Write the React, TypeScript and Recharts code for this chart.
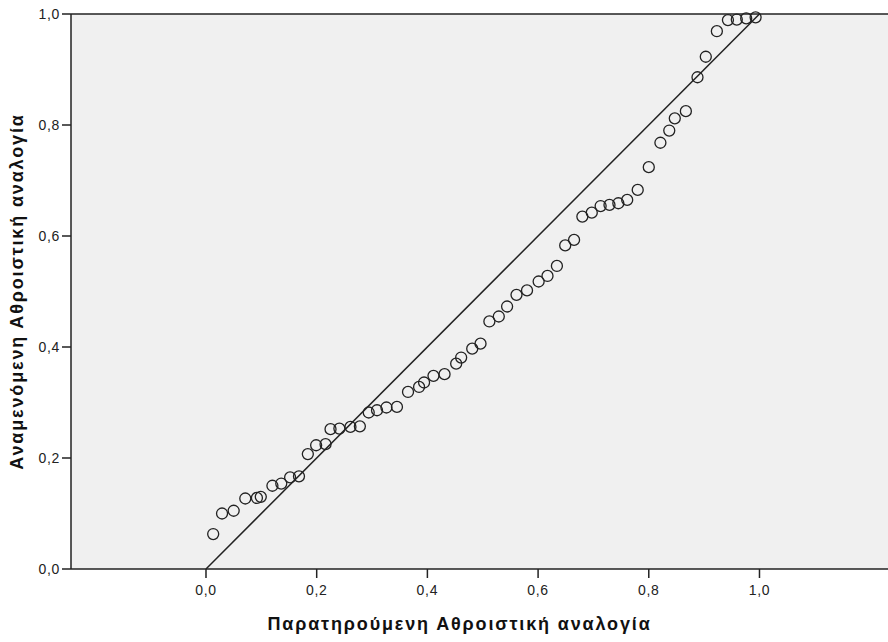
import {
    ScatterChart,
    Scatter,
    XAxis,
    YAxis,
    CartesianGrid,
    ReferenceLine,
    Label,
} from "recharts";

// observed cumulative proportion (x) and expected cumulative proportion (y)
const observed = [
    0.013, 0.029, 0.05, 0.071, 0.092, 0.099, 0.12, 0.136, 0.152, 0.168,
    0.184, 0.199, 0.216, 0.225, 0.241, 0.261, 0.278, 0.294, 0.309, 0.326,
    0.345, 0.365, 0.385, 0.394, 0.411, 0.431, 0.452, 0.461, 0.481, 0.496,
    0.512, 0.529, 0.544, 0.561, 0.58, 0.601, 0.617, 0.634, 0.649, 0.665,
    0.68, 0.697, 0.713, 0.729, 0.745, 0.761, 0.78, 0.8, 0.821, 0.837,
    0.847, 0.867, 0.888, 0.903, 0.923, 0.943, 0.959, 0.976, 0.993,
];
const expected = [
    0.063, 0.1, 0.105, 0.127, 0.128, 0.13, 0.15, 0.154, 0.165, 0.167,
    0.207, 0.223, 0.225, 0.252, 0.253, 0.256, 0.257, 0.282, 0.286, 0.291,
    0.292, 0.319, 0.328, 0.336, 0.348, 0.351, 0.37, 0.381, 0.397, 0.406,
    0.446, 0.455, 0.473, 0.494, 0.502, 0.518, 0.528, 0.546, 0.583, 0.593,
    0.635, 0.642, 0.654, 0.656, 0.659, 0.665, 0.683, 0.724, 0.768, 0.79,
    0.812, 0.825, 0.886, 0.923, 0.969, 0.989, 0.99, 0.992, 0.994,
];
const ticks = [0, 0.2, 0.4, 0.6, 0.8, 1.0];

const points = observed.map((x, i) => ({ x, y: expected[i] }));

const font = "'Liberation Sans', Arial, sans-serif";
const fmt = (v: number) => v.toFixed(1).replace(".", ",");

const tickStyle = { fontSize: 14, fill: "#222", letterSpacing: 0.7 };
const titleStyle = { fontSize: 18, fontWeight: "bold", fill: "#111", letterSpacing: 1.85 };

const Ring = (props: any) => (
    <circle cx={props.cx} cy={props.cy} r={5.5} fill="none" stroke="#222" strokeWidth={1.3} />
);

export default function App() {
    return (
        <div style={{ position: "absolute", left: 0, top: 0, background: "#fff" }}>
            <ScatterChart
                width={888}
                height={642}
                margin={{ top: 14, right: 0, left: 0, bottom: 0 }}
                style={{ fontFamily: font }}
            >
                <CartesianGrid horizontal={false} vertical={false} fill="#f0f0f0" />
                <XAxis
                    type="number"
                    dataKey="x"
                    domain={[-0.2439, 1.2322]}
                    ticks={ticks}
                    tickFormatter={fmt}
                    height={73}
                    tickSize={9}
                    tickMargin={7}
                    allowDataOverflow
                    tick={tickStyle}
                    axisLine={{ stroke: "#222", strokeWidth: 1.5 }}
                    tickLine={{ stroke: "#222", strokeWidth: 1.5 }}
                >
                    <Label
                        value="Παρατηρούμενη Αθροιστική αναλογία"
                        position="insideBottom"
                        offset={12}
                        dx={-20}
                        style={titleStyle}
                    />
                </XAxis>
                <YAxis
                    type="number"
                    dataKey="y"
                    domain={[0, 1]}
                    ticks={ticks}
                    tickFormatter={fmt}
                    width={71}
                    tickSize={9}
                    tickMargin={2}
                    tick={tickStyle}
                    axisLine={{ stroke: "#222", strokeWidth: 1.5 }}
                    tickLine={{ stroke: "#222", strokeWidth: 1.5 }}
                >
                    <Label
                        value="Αναμενόμενη Αθροιστική αναλογία"
                        angle={-90}
                        position="insideLeft"
                        offset={17}
                        style={{ ...titleStyle, textAnchor: "middle" }}
                    />
                </YAxis>
                <ReferenceLine y={1} stroke="#222" strokeWidth={1.5} />
                <ReferenceLine
                    segment={[{ x: 0, y: 0 }, { x: 1, y: 1 }]}
                    stroke="#222"
                    strokeWidth={1.5}
                />
                <Scatter data={points} shape={Ring} isAnimationActive={false} />
            </ScatterChart>
        </div>
    );
}
